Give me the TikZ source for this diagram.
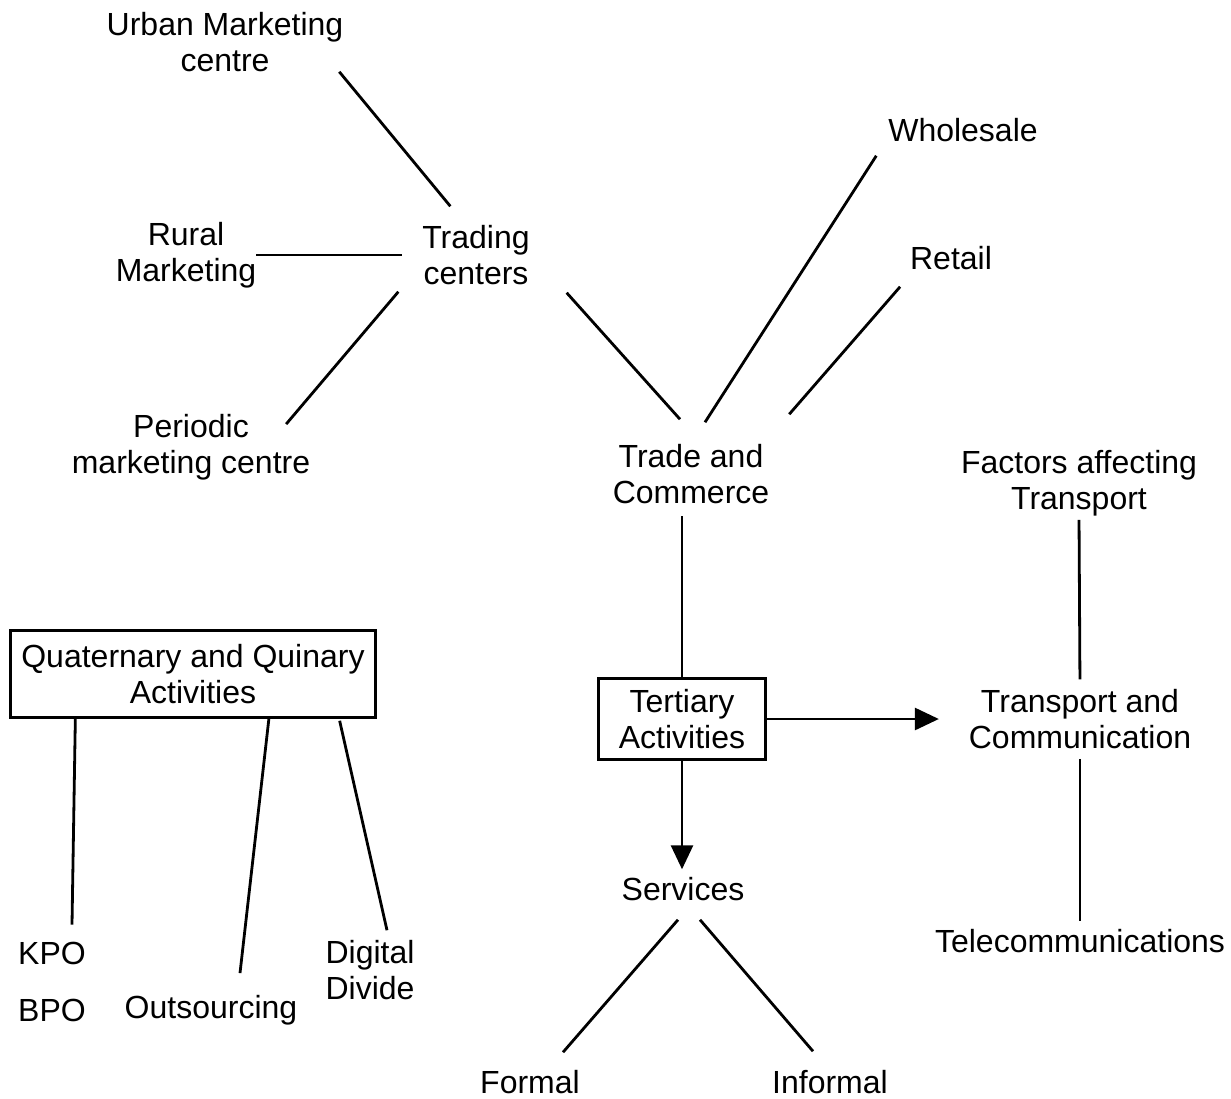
\documentclass[tikz,border=0pt]{standalone}
\usepackage{fontspec}
\setmainfont{Liberation Sans}
\usetikzlibrary{arrows.meta}

\begin{document}
\begin{tikzpicture}[x=0.5pt, y=-0.5pt, line width=1.4pt,
    lbl/.style = {inner sep=0pt, outer sep=0pt, align=center, font=\fontsize{16pt}{18pt}\selectfont},
    act/.style = {lbl, draw, inner xsep=5.5pt, inner ysep=7pt},
    arr/.style = {-{Triangle[length=12pt, width=11pt]}}]
    \useasboundingbox (0,0) rectangle (1231,1098);
        % Nodes
        \node[lbl] (urban) at (225,42) {Urban Marketing\\centre};
        \node[lbl] (rural) at (186,255) {Rural\\Marketing};
        \node[lbl] (trading) at (476,255) {Trading\\centers};
        \node[lbl] (periodic) at (191,447) {Periodic\\marketing centre};
        \node[lbl] (wholesale) at (963,130) {Wholesale};
        \node[lbl] (retail) at (951,258) {Retail};
        \node[lbl] (trade) at (691,474) {Trade and\\Commerce};
        \node[lbl] (factors) at (1079,483) {Factors affecting\\Transport};
        \node[act] (quat) at (193,674) {Quaternary and Quinary\\Activities};
        \node[act, inner xsep=10pt, inner ysep=5.5pt] (tertiary) at (682,719) {Tertiary\\Activities};
        \node[lbl] (transport) at (1080,719) {Transport and\\Communication};
        \node[lbl] (services) at (683,889) {Services};
        \node[lbl] (telecom) at (1080,941) {Telecommunications};
        \node[lbl] (kpo) at (52,953) {KPO};
        \node[lbl] (bpo) at (52,1010) {BPO};
        \node[lbl] (outsourcing) at (211,1010) {Outsourcing};
        \node[lbl] (digital) at (370,970) {Digital\\Divide};
        \node[lbl] (formal) at (530,1082) {Formal};
        \node[lbl] (informal) at (830,1082) {Informal};

        % Lines
        \draw ([shift={(-4,0)}]urban.south east) -- ([shift={(28,-19)}]trading.north west);
        \draw (rural.east) -- ([xshift=-10pt]trading.west);
        \draw ([shift={(-24,10)}]periodic.north east) -- ([shift={(-24,7)}]trading.south west);
        \draw ([shift={(37,8)}]trading.south east) -- ([shift={(-11,-25)}]trade.north);
        \draw ([shift={(-12,14)}]wholesale.south west) -- ([shift={(14,-22)}]trade.north);
        \draw ([shift={(-10,17)}]retail.south west) -- ([shift={(20,-30)}]trade.north east);
        \draw[shorten >=6pt] (tertiary.north) -- (tertiary.north |- trade.south);
        \draw[arr, shorten >=15pt] (tertiary.east) -- (transport.west);
        \draw[arr, shorten >=4pt] (tertiary.south) -- (tertiary.south |- services.north);
        \draw[shorten <=2pt, shorten >=5pt] (factors.south) -- (transport.north);
        \draw[shorten <=5pt, shorten >=4pt] (transport.south) -- (telecom.north);
        \draw ([shift={(-5,19)}]services.south) -- ([shift={(33,-18)}]formal.north);
        \draw ([shift={(17,19)}]services.south) -- ([shift={(-17,-19)}]informal.north);

        \draw ([shift={(65,0)}]quat.south west) -- ([shift={(20,-17)}]kpo.north);
        \draw ([shift={(76,0)}]quat.south) -- ([shift={(29,-22)}]outsourcing.north);
        \draw ([shift={(-36,3)}]quat.south east) -- ([shift={(17,-10)}]digital.north);
\end{tikzpicture}
\end{document}
